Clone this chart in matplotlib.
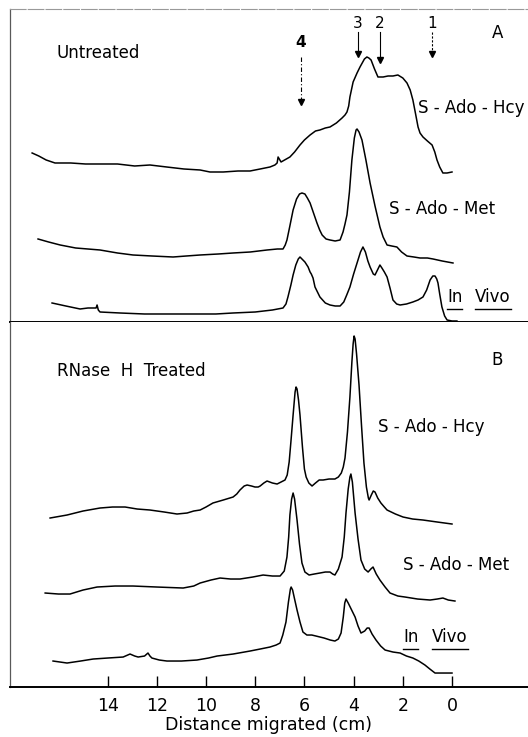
import numpy as np
import matplotlib
matplotlib.use("Agg")
import matplotlib.pyplot as plt

plt.rcParams['font.family'] = ['DejaVu Sans']

# densitometer traces
# x = distance migrated (cm), y = trace height (arbitrary units)
# panel A - untreated
a_hcy_cm = [17.07, 16.8, 16.5, 16.14, 15.5, 14.9, 14.31, 13.6, 12.9, 12.28, 11.6, 10.9, 10.24, 9.84, 9.3,
            8.7, 8.21, 7.8, 7.40, 7.20, 7.11, 7.07, 6.95, 6.59, 6.40, 6.18, 6.0, 5.77, 5.55, 5.37,
            5.15, 4.96, 4.70, 4.47, 4.35, 4.27, 4.20, 4.15, 4.02, 3.86, 3.74, 3.56, 3.46, 3.38, 3.29,
            3.15, 3.01, 2.80, 2.60, 2.40, 2.20, 2.0, 1.83, 1.70, 1.59, 1.48, 1.38, 1.30, 1.18, 1.00,
            0.81, 0.70, 0.61, 0.50, 0.37, 0.2, 0.0]
a_hcy_h = [169, 166, 162, 159, 159, 158, 158, 158, 156, 157, 155, 153, 152, 150, 150,
           151, 151, 153, 155, 157, 159, 165, 160, 165, 170, 177, 182, 187, 191, 192,
           194, 195, 199, 204, 207, 210, 216, 225, 240, 249, 255, 263, 265, 264, 262,
           253, 245, 245, 246, 246, 247, 244, 239, 232, 222, 208, 195, 189, 185, 181,
           177, 170, 162, 155, 149, 149, 150]

a_met_cm = [16.83, 16.4, 15.93, 15.3, 14.31, 13.6, 12.97, 12.2, 11.34, 10.8, 10.24, 9.5, 8.90, 8.2, 7.52,
            7.1, 6.87, 6.78, 6.71, 6.60, 6.46, 6.32, 6.20, 6.10, 5.98, 5.88, 5.77, 5.63, 5.49, 5.38,
            5.28, 5.12, 4.96, 4.75, 4.55, 4.43, 4.35, 4.27, 4.17, 4.07, 3.97, 3.90, 3.86, 3.78, 3.66,
            3.50, 3.33, 3.13, 2.93, 2.80, 2.64, 2.45, 2.24, 2.05, 1.83, 1.55, 1.30, 1.0, 0.77, 0.4,
            -0.04]
a_met_h = [83, 80, 77, 74, 72, 69, 67, 66, 65, 66, 67, 68, 69, 70, 72,
           73, 73, 77, 82, 95, 112, 123, 128, 129, 128, 124, 119, 109, 99, 92,
           87, 83, 82, 81, 82, 90, 98, 107, 130, 162, 184, 192, 193, 190, 182,
           162, 139, 116, 95, 85, 77, 76, 75, 70, 66, 65, 64, 64, 63, 61,
           59]

a_vivo_cm = [16.26, 15.7, 15.12, 14.8, 14.47, 14.43, 14.38, 14.31, 13.5, 12.5, 11.59, 10.5, 9.6, 8.90, 8.0,
             7.3, 6.87, 6.75, 6.67, 6.55, 6.46, 6.35, 6.25, 6.18, 6.10, 5.98, 5.85, 5.77, 5.72, 5.65,
             5.57, 5.45, 5.37, 5.15, 4.96, 4.75, 4.55, 4.40, 4.28, 4.15, 4.0, 3.86, 3.72, 3.62, 3.52,
             3.42, 3.33, 3.20, 3.13, 3.03, 2.93, 2.85, 2.75, 2.64, 2.52, 2.40, 2.25, 2.11, 1.85, 1.59,
             1.38, 1.18, 1.03, 0.89, 0.78, 0.69, 0.62, 0.57, 0.50, 0.41, 0.30, 0.20, 0.0, -0.20]
a_vivo_h = [19, 16, 13, 14, 14, 17, 12, 10, 9, 8, 8, 8, 8, 9, 10,
            12, 14, 18, 25, 37, 47, 57, 63, 65, 63, 60, 55, 50, 48, 44,
            35, 29, 25, 19, 17, 16, 16, 20, 27, 35, 48, 59, 70, 75, 70,
            61, 55, 48, 47, 52, 57, 54, 50, 45, 34, 22, 18, 17, 18, 20,
            22, 25, 32, 42, 46, 46, 43, 39, 28, 15, 6, 2, 1, 1]

# panel B - RNase H treated
b_hcy_cm = [16.34, 15.65, 15.0, 14.31, 13.8, 13.29, 12.8, 12.28, 11.7, 11.18, 10.77, 10.5, 10.24, 10.0, 9.72,
            9.3, 8.90, 8.75, 8.62, 8.45, 8.33, 8.15, 8.01, 7.88, 7.80, 7.65, 7.52, 7.30, 7.11, 6.95,
            6.79, 6.70, 6.62, 6.55, 6.46, 6.38, 6.34, 6.30, 6.24, 6.18, 6.08, 6.00, 5.93, 5.82, 5.69,
            5.55, 5.40, 5.24, 5.0, 4.76, 4.62, 4.50, 4.42, 4.35, 4.25, 4.15, 4.07, 4.02, 3.98, 3.94,
            3.88, 3.78, 3.68, 3.58, 3.48, 3.40, 3.37, 3.28, 3.20, 3.13, 3.02, 2.89, 2.75, 2.64, 2.3,
            1.99, 1.6, 1.18, 0.6, 0.0]
b_hcy_h = [169, 172, 176, 179, 180, 180, 178, 177, 175, 173, 174, 176, 177, 180, 184,
           187, 190, 193, 197, 201, 202, 201, 200, 200, 201, 204, 206, 204, 203, 205,
           207, 212, 225, 245, 272, 295, 300, 298, 287, 272, 240, 218, 210, 204, 201,
           204, 207, 207, 208, 208, 210, 214, 220, 229, 255, 290, 325, 343, 351, 348,
           333, 302, 262, 224, 200, 189, 187, 192, 196, 195, 189, 184, 180, 177, 173,
           170, 168, 167, 165, 163]

b_met_cm = [16.54, 16.0, 15.53, 15.0, 14.43, 13.7, 12.97, 12.0, 10.93, 10.5, 10.24, 9.8, 9.43, 9.0, 8.62,
            8.1, 7.68, 7.3, 6.99, 6.82, 6.71, 6.64, 6.59, 6.52, 6.46, 6.40, 6.30, 6.20, 6.10, 5.98,
            5.81, 5.6, 5.37, 5.15, 4.96, 4.85, 4.76, 4.62, 4.47, 4.38, 4.31, 4.22, 4.15, 4.11, 4.05,
            3.94, 3.82, 3.70, 3.55, 3.41, 3.30, 3.21, 3.08, 2.93, 2.72, 2.52, 2.2, 1.91, 1.4, 0.89,
            0.6, 0.37, 0.15, -0.12]
b_met_h = [94, 93, 93, 97, 100, 101, 101, 100, 99, 101, 104, 107, 109, 108, 108,
           110, 112, 111, 111, 116, 130, 150, 172, 188, 194, 188, 167, 143, 124, 115,
           112, 113, 114, 115, 115, 113, 112, 118, 130, 150, 174, 198, 210, 213, 205,
           174, 148, 127, 118, 115, 118, 120, 113, 107, 100, 94, 91, 90, 88, 87,
           88, 89, 87, 86]

b_vivo_cm = [16.22, 15.65, 15.1, 14.59, 14.0, 13.37, 13.09, 12.9, 12.76, 12.5, 12.36, 12.28, 12.20, 11.9, 11.59,
             11.0, 10.37, 9.9, 9.55, 8.9, 8.21, 7.8, 7.40, 7.15, 6.99, 6.88, 6.75, 6.65, 6.57, 6.54,
             6.48, 6.40, 6.30, 6.18, 6.06, 5.90, 5.70, 5.53, 5.2, 4.95, 4.76, 4.62, 4.51, 4.42, 4.36,
             4.31, 4.22, 4.10, 3.94, 3.82, 3.70, 3.55, 3.45, 3.37, 3.25, 3.09, 2.90, 2.72, 2.4, 2.11,
             1.85, 1.59, 1.35, 1.10, 0.9, 0.69, 0.3, 0.0]
b_vivo_h = [26, 24, 26, 28, 29, 30, 33, 31, 30, 31, 34, 31, 29, 27, 26,
            26, 27, 29, 31, 33, 36, 38, 40, 42, 44, 52, 65, 85, 98, 100,
            97, 88, 77, 65, 55, 52, 52, 51, 49, 47, 46, 48, 54, 70, 84,
            88, 84, 78, 70, 61, 54, 56, 59, 59, 53, 47, 41, 37, 35, 34,
            31, 29, 26, 22, 18, 14, 14, 14]

xticks = [14, 12, 10, 8, 6, 4, 2, 0]

# marker arrows in panel A
arrow_labels = ['4', '3', '2', '1']
arrow_cm = [6.14, 3.82, 2.93, 0.81]

fig = plt.figure(figsize=(5.28, 7.37), dpi=100)
axA = fig.add_axes([0.018, 0.5631, 0.982, 0.4247])
axB = fig.add_axes([0.018, 0.0678, 0.982, 0.4953])

for ax in (axA, axB):
    ax.set_xlim(17.99, -3.09)
    ax.spines['right'].set_visible(False)
    ax.spines['left'].set_color('0.35')
    ax.spines['left'].set_linewidth(0.9)
    ax.set_yticks([])
axA.set_ylim(0, 313)
axB.set_ylim(0, 365)

axA.spines['top'].set_color('0.6')
axA.spines['top'].set_linestyle((0, (14, 2)))
axA.spines['bottom'].set_linewidth(1.4)
axA.set_xticks([])
axB.spines['top'].set_visible(False)
axB.spines['bottom'].set_linewidth(1.4)

lw = 1.1
axA.plot(a_hcy_cm, a_hcy_h, color='black', lw=lw)
axA.plot(a_met_cm, a_met_h, color='black', lw=lw)
axA.plot(a_vivo_cm, a_vivo_h, color='black', lw=lw)
axB.plot(b_hcy_cm, b_hcy_h, color='black', lw=lw)
axB.plot(b_met_cm, b_met_h, color='black', lw=lw)
axB.plot(b_vivo_cm, b_vivo_h, color='black', lw=lw)

axB.set_xticks(xticks)
axB.set_xticklabels([str(t) for t in xticks])
axB.tick_params(axis='x', direction='in', length=8, width=1, pad=7, labelsize=12.5)
axB.set_xlabel('Distance migrated (cm)', fontsize=12.5, labelpad=1)

# labels
fs = 12
axA.text(16.06, 269, 'Untreated', fontsize=fs, va='center')
axA.text(-1.87, 289, 'A', fontsize=fs, va='center', ha='center')
axA.text(1.38, 214, 'S - Ado - Hcy', fontsize=fs, va='center')
axA.text(2.56, 113, 'S - Ado - Met', fontsize=fs, va='center')
axB.text(16.06, 316, 'RNase  H  Treated', fontsize=fs, va='center')
axB.text(-1.83, 327, 'B', fontsize=fs, va='center', ha='center')
axB.text(3.0, 260, 'S - Ado - Hcy', fontsize=fs, va='center')
axB.text(1.99, 122, 'S - Ado - Met', fontsize=fs, va='center')

# "In Vivo" with each word underlined
vivo_words = []
vivo_words.append((axA, axA.text(0.2, 25, 'In', fontsize=fs, va='center')))
vivo_words.append((axA, axA.text(-0.95, 25, 'Vivo', fontsize=fs, va='center')))
vivo_words.append((axB, axB.text(1.99, 50, 'In', fontsize=fs, va='center')))
vivo_words.append((axB, axB.text(0.8, 50, 'Vivo', fontsize=fs, va='center')))

# arrows over panel A
shaft_top = [265, 290, 290, 290]
shaft_tip = [217, 265, 259, 265]
label_h = [279, 298, 298, 298]
shaft_ls = [(0, (4, 2, 1, 2)), '-', '-', (0, (2, 1.5))]
for lab, xc, top, tip, lh, ls in zip(arrow_labels, arrow_cm, shaft_top, shaft_tip, label_h, shaft_ls):
    axA.text(xc, lh, lab, fontsize=11, ha='center', va='center', fontweight='bold' if lab == '4' else 'normal')
    axA.plot([xc, xc], [top, tip + 4], color='black', lw=0.8, ls=ls)
    axA.plot([xc], [tip + 3], marker='v', color='black', markersize=5)

fig.canvas.draw()
rend = fig.canvas.get_renderer()
for ax, t in vivo_words:
    bb = t.get_window_extent(renderer=rend)
    inv = ax.transData.inverted()
    (x0, y0), (x1, y1) = inv.transform([(bb.x0, bb.y0 - 3), (bb.x1, bb.y0 - 3)])
    ax.plot([x0, x1], [y0, y1], color='black', lw=1.0)

fig.savefig('out.png', dpi=100)
